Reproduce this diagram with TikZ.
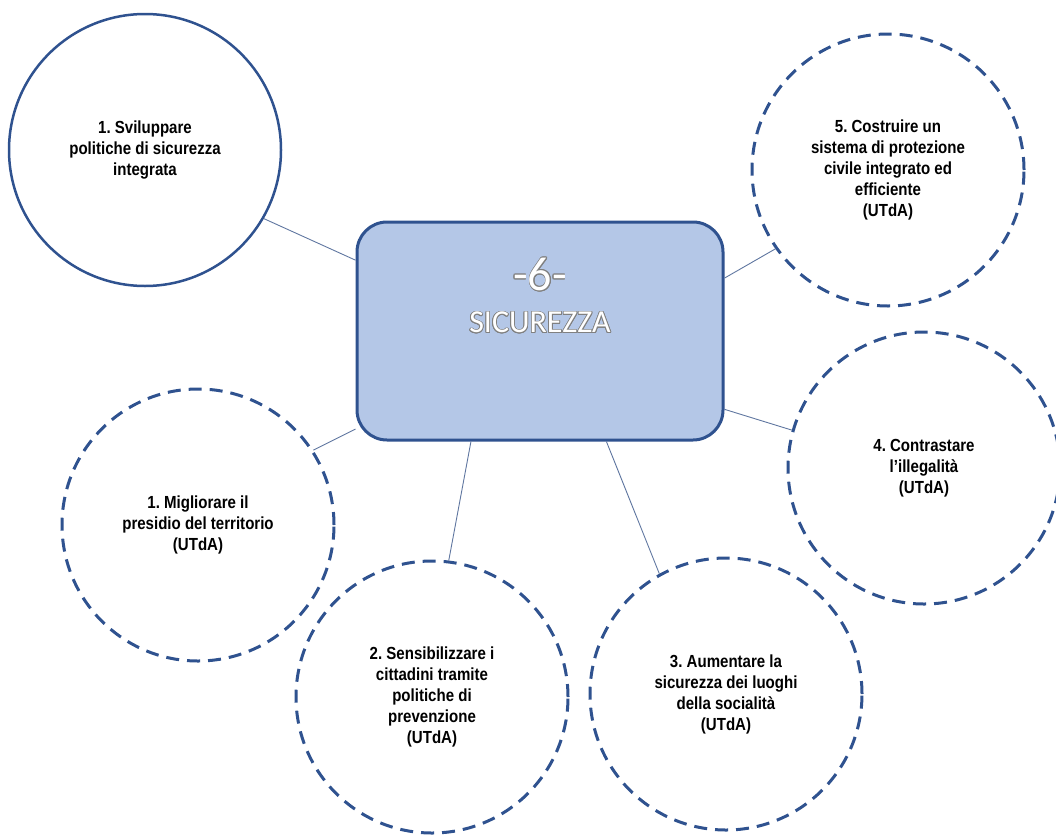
\documentclass[tikz,border=0pt]{standalone}
\usepackage{fontspec}
\setmainfont{Liberation Sans}
\newfontfamily\goalfont[FakeStretch=0.86]{Liberation Sans}
\newfontfamily\titlefont{Carlito}
\usepackage{contour}
\usetikzlibrary{positioning}
\usepackage{xcolor}
\definecolor{accentblue}{RGB}{47, 82, 143}
\definecolor{boxblue}{RGB}{180, 199, 231}
\definecolor{linkblue}{RGB}{95, 118, 160}
\contourlength{0.8pt}
\frenchspacing

\begin{document}
\begin{tikzpicture}[x=1pt, y=-1pt,
    goal/.style={circle, draw=accentblue, line width=2.5pt, minimum size=272pt,
        inner sep=0pt, align=center, font=\goalfont\bfseries\fontsize{17.5}{21}\selectfont},
    dashgoal/.style={goal, line width=3pt, dash pattern=on 13pt off 8pt},
    link/.style={draw=linkblue, line width=0.9pt}]
    \useasboundingbox (0,0) rectangle (1056,835);

    % central box
    \node[draw=accentblue, fill=boxblue, line width=3pt, rounded corners=30pt,
        minimum width=366pt, minimum height=218pt] (sicurezza) at (540,331) {};
    \node[text=white, font=\titlefont\fontsize{48}{48}\selectfont]
        (numero) at ([yshift=56pt]sicurezza.center) {\contour{gray}{-6-}};
    \node[text=white, font=\titlefont\fontsize{32}{32}\selectfont]
        (titolo) at ([yshift=8pt]sicurezza.center) {\contour{gray}{SICUREZZA}};

    % goals
    \node[goal] (svil) at (145,150) {1. Sviluppare\\politiche di sicurezza\\integrata};
    \node[dashgoal] (protez) at (888,170) {5. Costruire un\\sistema di protezione\\civile integrato ed\\efficiente\\(UTdA)};
    \node[dashgoal] (presidio) at (198,525) {1. Migliorare il\\presidio del territorio\\(UTdA)};
    \node[dashgoal] (illeg) at (924,468) {4. Contrastare\\l’illegalità\\(UTdA)};
    \node[dashgoal] (sensib) at (432,697) {2. Sensibilizzare i\\cittadini tramite\\politiche di\\prevenzione\\(UTdA)};
    \node[dashgoal] (luoghi) at (726,694) {3. Aumentare la\\sicurezza dei luoghi\\della socialità\\(UTdA)};

    \draw[link] (svil.-30) -- (sicurezza.159);
    \draw[link] (protez.215) -- (sicurezza.16);
    \draw[link] (presidio.33) -- (sicurezza.208);
    \draw[link] (sensib.83) -- (sicurezza.238);
    \draw[link] (luoghi.119) -- (sicurezza.301);
    \draw[link] (illeg.164) -- (sicurezza.-23);
\end{tikzpicture}
\end{document}
